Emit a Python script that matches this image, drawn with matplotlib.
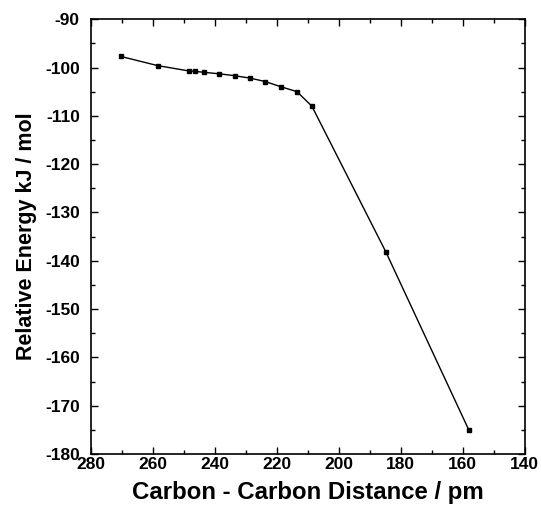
import matplotlib
matplotlib.use("Agg")
import matplotlib.pyplot as plt
from matplotlib.ticker import MultipleLocator

distance_pm = [270.4, 258.5, 248.5, 246.4, 243.5, 238.6, 233.6, 228.6, 223.8, 218.6, 213.5, 208.7, 184.8, 158.0]
energy_kj = [-97.7, -99.6, -100.7, -100.8, -101.0, -101.3, -101.7, -102.2, -102.9, -104.0, -105.0, -108.0, -138.2, -175.1]
x_ticks = [280, 260, 240, 220, 200, 180, 160, 140]
y_ticks = [-90, -100, -110, -120, -130, -140, -150, -160, -170, -180]

plt.rcParams['font.family'] = ['Liberation Sans', 'DejaVu Sans']
plt.rcParams['axes.unicode_minus'] = False

fig = plt.figure(figsize=(5.41, 5.05), dpi=100)
ax = fig.add_axes([0.168, 0.101, 0.802, 0.861])
ax.plot(distance_pm, energy_kj, color='black', lw=1.0, marker='s', ms=3.5)
ax.set_xlim(280, 140)
ax.set_ylim(-180, -90)
ax.set_xticks(x_ticks)
ax.set_yticks(y_ticks)
ax.xaxis.set_minor_locator(MultipleLocator(10))
ax.yaxis.set_minor_locator(MultipleLocator(5))
ax.tick_params(which='both', direction='in', top=True, right=True, width=1.0)
ax.tick_params(which='major', length=5, labelsize=12.5)
ax.tick_params(axis='y', which='major', pad=8)
ax.tick_params(axis='x', which='major', pad=2)
ax.tick_params(which='minor', length=3)
for lab in ax.get_xticklabels() + ax.get_yticklabels():
    lab.set_fontweight('bold')
for s in ax.spines.values():
    s.set_linewidth(1.2)
ax.set_xlabel('Carbon - Carbon Distance / pm', fontsize=17.3, fontweight='bold', labelpad=7)
ax.set_ylabel('Relative Energy kJ / mol', fontsize=15.5, fontweight='bold', labelpad=6)
fig.savefig('out.png', dpi=100)
